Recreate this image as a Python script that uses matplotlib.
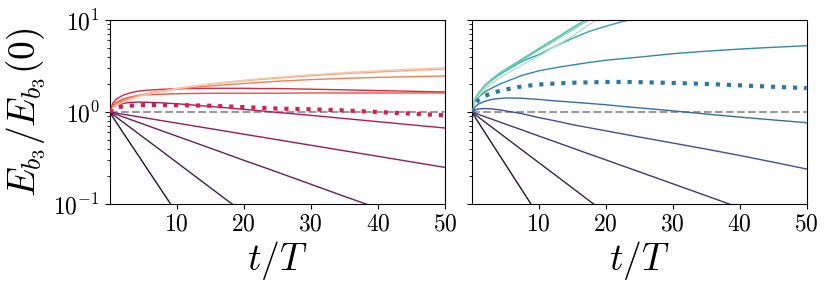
import numpy as np
import matplotlib
matplotlib.use("Agg")
import matplotlib.pyplot as plt
import seaborn as sns

plt.rcParams['font.family'] = ['cmr10']
plt.rcParams['mathtext.fontset'] = 'cm'
plt.rcParams['axes.formatter.use_mathtext'] = True
plt.rcParams['axes.unicode_minus'] = False

nan = np.nan
t = [0, 0.5, 1, 2, 3, 4, 5, 7.5, 10, 12.5, 15, 17.5, 20, 22.5, 25, 30, 35, 40, 45, 50]

# ---- left panel (rocket) ----
left_curves = [
    [1, 0.88, 0.776, 0.60, 0.467, 0.363, 0.282, 0.150, 0.080] + [nan] * 11,
    [1, 0.939, 0.882, 0.778, 0.686, 0.605, 0.533, 0.390, 0.284, 0.207, 0.151, 0.110, 0.081] + [nan] * 7,
    [1, 0.970, 0.942, 0.886, 0.835, 0.786, 0.740, 0.636, 0.547, 0.471, 0.405, 0.348, 0.299, 0.258, 0.222, 0.164, 0.121, 0.090, nan, nan],
    [1, 0.986, 0.973, 0.946, 0.920, 0.895, 0.871, 0.812, 0.758, 0.707, 0.660, 0.616, 0.574, 0.536, 0.500, 0.435, 0.379, 0.330, 0.287, 0.250],
    [1, 1.12, 1.18, 1.24, 1.27, 1.28, 1.28, 1.26, 1.23, 1.19, 1.15, 1.11, 1.07, 1.03, 0.99, 0.92, 0.85, 0.785, 0.725, 0.670],
    [1, 1.25, 1.38, 1.52, 1.61, 1.67, 1.71, 1.76, 1.79, 1.80, 1.81, 1.81, 1.81, 1.80, 1.80, 1.77, 1.74, 1.71, 1.68, 1.65],
    [1, 1.18, 1.27, 1.38, 1.45, 1.50, 1.53, 1.56, 1.58, 1.59, 1.60, 1.60, 1.60, 1.60, 1.60, 1.61, 1.61, 1.61, 1.61, 1.61],
    [1, 1.14, 1.22, 1.33, 1.42, 1.49, 1.55, 1.67, 1.77, 1.85, 1.92, 1.98, 2.04, 2.10, 2.16, 2.25, 2.32, 2.38, 2.42, 2.46],
    [1, 1.12, 1.19, 1.30, 1.39, 1.47, 1.54, 1.68, 1.80, 1.91, 2.01, 2.10, 2.18, 2.26, 2.33, 2.48, 2.61, 2.72, 2.83, 2.93],
    [1, 1.10, 1.17, 1.27, 1.36, 1.44, 1.51, 1.66, 1.79, 1.91, 2.02, 2.12, 2.21, 2.30, 2.38, 2.54, 2.68, 2.81, 2.93, 3.03],
]
left_dotted = [1, 1.09, 1.12, 1.15, 1.17, 1.18, 1.19, 1.19, 1.19, 1.18, 1.17, 1.15, 1.13, 1.11, 1.09, 1.07, 1.04, 1.00, 0.96, 0.92]

# ---- right panel (mako) ----
right_curves = [
    [1, 0.878, 0.771, 0.594, 0.458, 0.353, 0.272, 0.142, 0.074] + [nan] * 11,
    [1, 0.939, 0.881, 0.776, 0.684, 0.603, 0.531, 0.387, 0.282, 0.206, 0.150, 0.109, 0.080] + [nan] * 7,
    [1, 0.970, 0.942, 0.887, 0.836, 0.787, 0.741, 0.638, 0.549, 0.473, 0.407, 0.350, 0.302, 0.260, 0.224, 0.166, 0.123, 0.091, nan, nan],
    [1, 1.05, 1.08, 1.09, 1.08, 1.06, 1.03, 0.96, 0.87, 0.80, 0.73, 0.675, 0.625, 0.578, 0.535, 0.46, 0.395, 0.337, 0.285, 0.24],
    [1, 1.14, 1.22, 1.31, 1.37, 1.40, 1.42, 1.41, 1.37, 1.32, 1.28, 1.24, 1.20, 1.15, 1.11, 1.03, 0.95, 0.88, 0.82, 0.765],
    [1, 1.30, 1.45, 1.66, 1.82, 1.98, 2.12, 2.50, 2.80, 3.03, 3.24, 3.45, 3.65, 3.80, 3.95, 4.30, 4.58, 4.83, 5.05, 5.25],
    [1, 1.38, 1.58, 1.92, 2.22, 2.50, 2.78, 3.55, 4.20, 5.20, 6.30, 7.50, 8.55, 9.60, 10.6, 12.5, nan, nan, nan, nan],
    [1, 1.40, 1.60, 1.97, 2.28, 2.60, 2.90, 3.75, 4.87, 6.30, 8.20, 10.6, 13.5] + [nan] * 7,
    [1, 1.38, 1.58, 1.95, 2.25, 2.55, 2.85, 3.65, 4.70, 6.05, 7.80, 10.05, 13.0] + [nan] * 7,
    [1, 1.30, 1.48, 1.78, 2.05, 2.30, 2.55, 3.25, 4.05, 5.20, 6.65, 8.90, 11.6] + [nan] * 7,
]
right_dotted = [1, 1.22, 1.35, 1.50, 1.60, 1.68, 1.75, 1.90, 1.99, 2.04, 2.08, 2.10, 2.12, 2.12, 2.11, 2.07, 2.02, 1.95, 1.88, 1.82]

ref_level = 1.0
xticks = [10, 20, 30, 40, 50]

W, H = 830, 289
fig = plt.figure(figsize=(W / 100, H / 100), dpi=100)
axL = fig.add_axes([109.5 / W, 1 - 204 / H, 335.5 / W, 184 / H])
axR = fig.add_axes([471.7 / W, 1 - 204 / H, 335.0 / W, 184 / H], sharey=axL)

panels = [
    (axL, left_curves, left_dotted, sns.color_palette("rocket", 10), '#d3204f'),
    (axR, right_curves, right_dotted, sns.color_palette("mako", 10), '#2d77a3'),
]
for ax, curves, dotted, pal, dcol in panels:
    ax.axhline(ref_level, color='#9a9a9a', ls='--', lw=1.5, zorder=1.5)
    for i, c in enumerate(curves):
        ax.plot(t, c, color=pal[i], lw=1.0, zorder=2)
    ax.plot(t, dotted, color=dcol, ls=':', lw=3, zorder=3)
    ax.set_yscale('log')
    ax.set_ylim(0.1, 10)
    ax.set_xlim(0, 50)
    ax.set_xticks(xticks)
    ax.tick_params(labelsize=17)
    ax.set_xlabel(r'$t/T$', fontsize=27, labelpad=2)

axL.set_ylabel(r'$E_{b_3}/E_{b_3}(0)$', fontsize=27, labelpad=4)
plt.setp(axR.get_yticklabels(), visible=False)

fig.savefig('out.png', dpi=100)
